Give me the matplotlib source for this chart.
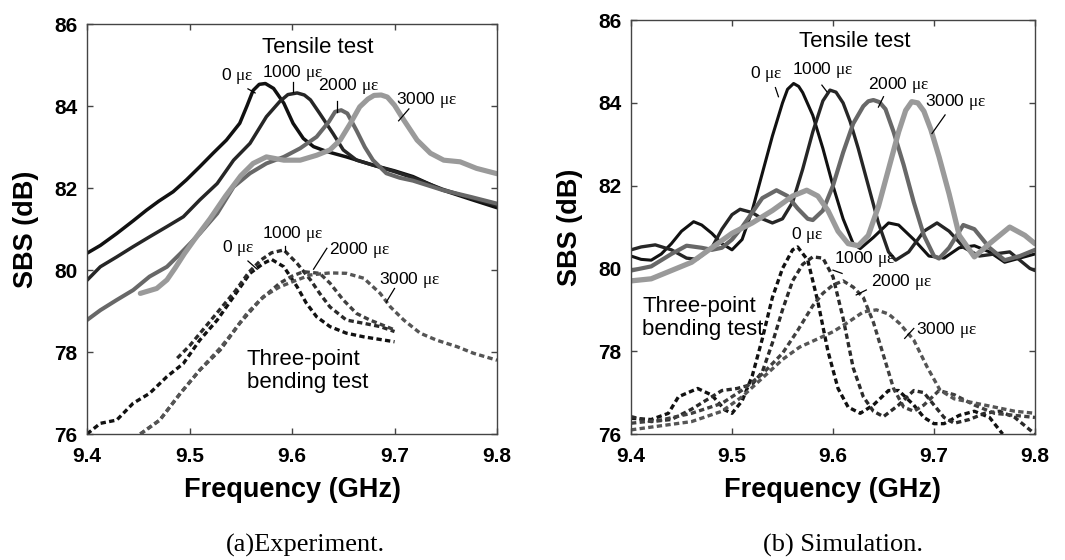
import matplotlib
matplotlib.use('Agg')
from matplotlib import pyplot as plt

plt.rcParams['font.family'] = ['Liberation Sans', 'DejaVu Sans']
plt.rcParams['mathtext.fontset'] = 'custom'
plt.rcParams['mathtext.rm'] = 'Liberation Serif'
plt.rcParams['mathtext.it'] = 'Liberation Serif:italic'

strains = ['0', '1000', '2000', '3000']

# ---------- (a) experiment: tensile test ----------
exp_t0_f = [9.400, 9.413, 9.429, 9.445, 9.458, 9.470, 9.484, 9.497, 9.510, 9.523, 9.536, 9.549, 9.556, 9.562,
            9.568, 9.574, 9.582, 9.592, 9.601, 9.611, 9.621, 9.634, 9.653, 9.679, 9.700, 9.718, 9.747, 9.775, 9.800]
exp_t0 = [80.41, 80.60, 80.89, 81.20, 81.46, 81.68, 81.91, 82.20, 82.52, 82.85, 83.17, 83.58, 84.00, 84.38,
          84.53, 84.55, 84.43, 84.07, 83.58, 83.21, 83.01, 82.89, 82.76, 82.56, 82.42, 82.28, 81.95, 81.72, 81.52]
exp_t1_f = [9.400, 9.413, 9.429, 9.445, 9.461, 9.478, 9.494, 9.510, 9.527, 9.543, 9.559, 9.575, 9.588, 9.596,
            9.605, 9.612, 9.618, 9.627, 9.640, 9.650, 9.663, 9.679, 9.700, 9.718, 9.747, 9.775, 9.800]
exp_t1 = [79.75, 80.08, 80.32, 80.57, 80.81, 81.06, 81.30, 81.71, 82.11, 82.68, 83.09, 83.74, 84.11, 84.28,
          84.32, 84.27, 84.15, 83.82, 83.33, 82.93, 82.68, 82.56, 82.40, 82.25, 81.97, 81.75, 81.58]
exp_t2_f = [9.400, 9.413, 9.429, 9.445, 9.461, 9.478, 9.491, 9.510, 9.527, 9.543, 9.559, 9.575, 9.592, 9.608,
            9.624, 9.636, 9.642, 9.648, 9.654, 9.663, 9.671, 9.679, 9.692, 9.705, 9.718, 9.747, 9.775, 9.800]
exp_t2 = [78.78, 79.02, 79.27, 79.51, 79.84, 80.08, 80.40, 80.89, 81.38, 82.03, 82.36, 82.60, 82.76, 82.97,
          83.25, 83.62, 83.86, 83.90, 83.82, 83.40, 83.00, 82.68, 82.36, 82.25, 82.18, 81.95, 81.78, 81.62]
exp_t3_f = [9.452, 9.468, 9.478, 9.486, 9.495, 9.505, 9.520, 9.535, 9.550, 9.562, 9.575, 9.592, 9.608, 9.624,
            9.637, 9.647, 9.657, 9.666, 9.674, 9.680, 9.687, 9.693, 9.700, 9.709, 9.722, 9.735, 9.748, 9.764,
            9.780, 9.800]
exp_t3 = [79.43, 79.55, 79.76, 80.05, 80.40, 80.75, 81.25, 81.80, 82.30, 82.60, 82.76, 82.68, 82.68, 82.80,
          82.93, 83.17, 83.58, 83.98, 84.17, 84.26, 84.27, 84.22, 84.02, 83.66, 83.17, 82.85, 82.68, 82.64,
          82.48, 82.35]

# ---------- (a) experiment: three-point bending ----------
exp_b0_f = [9.400, 9.405, 9.413, 9.429, 9.445, 9.461, 9.478, 9.494, 9.510, 9.527, 9.543, 9.559, 9.572, 9.580,
            9.592, 9.605, 9.614, 9.624, 9.637, 9.653, 9.670, 9.700]
exp_b0 = [76.00, 76.10, 76.26, 76.34, 76.75, 76.99, 77.40, 77.72, 78.29, 78.78, 79.35, 79.92, 80.16, 80.26,
          80.08, 79.59, 79.19, 78.86, 78.62, 78.46, 78.37, 78.25]
exp_b1_f = [9.488, 9.500, 9.515, 9.530, 9.545, 9.558, 9.570, 9.580, 9.592, 9.605, 9.618, 9.627, 9.637, 9.653,
            9.670, 9.686, 9.700]
exp_b1 = [77.85, 78.15, 78.60, 79.05, 79.50, 79.95, 80.25, 80.42, 80.49, 80.16, 79.76, 79.43, 79.10, 78.78,
          78.70, 78.62, 78.50]
exp_b2_f = [9.452, 9.471, 9.491, 9.510, 9.530, 9.549, 9.569, 9.588, 9.600, 9.611, 9.627, 9.637, 9.650, 9.663,
            9.676, 9.700]
exp_b2 = [76.00, 76.34, 76.99, 77.56, 78.05, 78.70, 79.27, 79.68, 79.85, 79.96, 79.92, 79.68, 79.27, 78.94,
          78.78, 78.54]
exp_b3_f = [9.452, 9.471, 9.491, 9.510, 9.530, 9.540, 9.556, 9.572, 9.588, 9.601, 9.618, 9.637, 9.653, 9.670,
            9.686, 9.696, 9.709, 9.725, 9.741, 9.761, 9.777, 9.800]
exp_b3 = [76.00, 76.34, 76.99, 77.56, 78.10, 78.41, 78.94, 79.35, 79.59, 79.72, 79.88, 79.93, 79.92, 79.80,
          79.43, 79.10, 78.78, 78.46, 78.29, 78.13, 77.97, 77.80]

# ---------- (b) simulation: tensile test ----------
sim_t0_f = [9.400, 9.410, 9.420, 9.430, 9.440, 9.450, 9.462, 9.470, 9.480, 9.490, 9.500, 9.510, 9.520, 9.530,
            9.540, 9.550, 9.555, 9.561, 9.566, 9.570, 9.580, 9.590, 9.600, 9.610, 9.620, 9.627, 9.640, 9.655,
            9.665, 9.680, 9.695, 9.710, 9.725, 9.740, 9.755, 9.770, 9.785, 9.800]
sim_t0 = [80.30, 80.22, 80.20, 80.35, 80.60, 80.90, 81.13, 81.05, 80.85, 80.60, 80.45, 80.70, 81.40, 82.30,
          83.20, 84.00, 84.33, 84.47, 84.40, 84.25, 83.70, 82.90, 82.00, 81.20, 80.60, 80.48, 80.75, 81.10,
          81.05, 80.70, 80.30, 80.25, 80.50, 80.55, 80.40, 80.15, 80.25, 80.35]
sim_t1_f = [9.400, 9.410, 9.424, 9.440, 9.455, 9.465, 9.480, 9.490, 9.500, 9.508, 9.520, 9.530, 9.540, 9.550,
            9.560, 9.570, 9.580, 9.590, 9.597, 9.603, 9.610, 9.617, 9.625, 9.635, 9.645, 9.655, 9.662, 9.675,
            9.690, 9.703, 9.715, 9.730, 9.745, 9.760, 9.775, 9.785, 9.795, 9.800]
sim_t1 = [80.45, 80.52, 80.57, 80.45, 80.25, 80.22, 80.50, 80.95, 81.30, 81.43, 81.35, 81.20, 81.10, 81.20,
          81.60, 82.40, 83.30, 84.05, 84.31, 84.26, 84.00, 83.55, 82.90, 82.00, 81.10, 80.40, 80.20, 80.40,
          80.90, 81.10, 80.90, 80.50, 80.30, 80.35, 80.40, 80.20, 80.00, 79.95]
sim_t2_f = [9.400, 9.420, 9.440, 9.455, 9.470, 9.480, 9.490, 9.500, 9.510, 9.520, 9.530, 9.544, 9.555, 9.565,
            9.575, 9.580, 9.590, 9.600, 9.610, 9.620, 9.630, 9.635, 9.640, 9.646, 9.652, 9.660, 9.670, 9.680,
            9.690, 9.700, 9.705, 9.715, 9.729, 9.740, 9.755, 9.770, 9.785, 9.800]
sim_t2 = [79.95, 80.05, 80.35, 80.55, 80.50, 80.45, 80.50, 80.70, 81.00, 81.35, 81.70, 81.89, 81.75, 81.45,
          81.20, 81.17, 81.40, 82.00, 82.80, 83.50, 83.92, 84.04, 84.07, 84.02, 83.85, 83.30, 82.50, 81.60,
          80.80, 80.30, 80.24, 80.50, 81.05, 80.95, 80.50, 80.20, 80.30, 80.45]
sim_t3_f = [9.400, 9.420, 9.440, 9.460, 9.480, 9.500, 9.520, 9.540, 9.560, 9.574, 9.585, 9.595, 9.605, 9.615,
            9.625, 9.635, 9.645, 9.655, 9.665, 9.672, 9.678, 9.684, 9.690, 9.697, 9.705, 9.715, 9.725, 9.740,
            9.755, 9.775, 9.790, 9.800]
sim_t3 = [79.70, 79.75, 79.95, 80.15, 80.50, 80.85, 81.10, 81.40, 81.75, 81.89, 81.75, 81.40, 80.90, 80.60,
          80.55, 80.80, 81.50, 82.40, 83.30, 83.82, 84.03, 84.00, 83.80, 83.35, 82.70, 81.80, 80.80, 80.28,
          80.60, 81.00, 80.80, 80.60]

# ---------- (b) simulation: three-point bending ----------
sim_b0_f = [9.400, 9.420, 9.437, 9.447, 9.466, 9.480, 9.493, 9.500, 9.510, 9.520, 9.530, 9.540, 9.550, 9.560,
            9.565, 9.575, 9.585, 9.595, 9.605, 9.615, 9.627, 9.640, 9.655, 9.665, 9.680, 9.690, 9.700, 9.710,
            9.725, 9.740, 9.755, 9.768]
sim_b0 = [76.38, 76.35, 76.50, 76.90, 77.10, 76.94, 76.58, 76.50, 76.80, 77.40, 78.30, 79.30, 80.00, 80.45,
          80.52, 80.20, 79.20, 78.00, 77.10, 76.65, 76.50, 76.70, 77.05, 77.05, 76.70, 76.40, 76.25, 76.25,
          76.45, 76.55, 76.40, 76.00]
sim_b1_f = [9.400, 9.420, 9.440, 9.460, 9.480, 9.490, 9.505, 9.520, 9.530, 9.540, 9.550, 9.560, 9.570, 9.580,
            9.590, 9.600, 9.610, 9.620, 9.630, 9.640, 9.650, 9.665, 9.680, 9.690, 9.700, 9.710, 9.720, 9.735,
            9.750, 9.765, 9.780, 9.795, 9.800]
sim_b1 = [76.42, 76.30, 76.35, 76.60, 76.90, 77.05, 77.10, 77.20, 77.50, 78.20, 79.00, 79.70, 80.10, 80.28,
          80.25, 79.80, 78.80, 77.60, 76.90, 76.55, 76.42, 76.70, 77.05, 77.00, 76.70, 76.40, 76.26, 76.35,
          76.50, 76.55, 76.40, 76.10, 76.00]
sim_b2_f = [9.400, 9.430, 9.460, 9.490, 9.510, 9.530, 9.550, 9.565, 9.580, 9.590, 9.600, 9.610, 9.620, 9.630,
            9.640, 9.650, 9.660, 9.670, 9.680, 9.690, 9.705, 9.720, 9.740, 9.760, 9.780, 9.800]
sim_b2 = [76.26, 76.34, 76.50, 76.74, 77.06, 77.45, 77.95, 78.50, 79.10, 79.40, 79.60, 79.70, 79.55, 79.30,
          78.70, 77.90, 77.10, 76.65, 76.55, 76.70, 77.05, 76.95, 76.70, 76.50, 76.45, 76.40]
sim_b3_f = [9.400, 9.430, 9.460, 9.490, 9.510, 9.530, 9.550, 9.567, 9.585, 9.600, 9.615, 9.630, 9.643, 9.655,
            9.666, 9.680, 9.693, 9.706, 9.720, 9.740, 9.760, 9.780, 9.800]
sim_b3 = [76.10, 76.20, 76.30, 76.55, 76.90, 77.35, 77.80, 78.10, 78.30, 78.47, 78.70, 78.95, 79.00, 78.90,
          78.67, 78.27, 77.63, 77.06, 76.85, 76.75, 76.65, 76.55, 76.50]

solid_cols = ['#111111', '#262626', '#686868', '#9a9a9a']
dash_cols = ['#111111', '#2a2a2a', '#404040', '#555555']
dash = (0, (1.6, 1.0))


def style(ax):
    ax.set_xlim(9.4, 9.8)
    ax.set_ylim(76, 86)
    ax.set_xticks([9.4, 9.5, 9.6, 9.7, 9.8])
    ax.set_yticks([76, 78, 80, 82, 84, 86])
    ax.set_xticklabels(['9.4', '9.5', '9.6', '9.7', '9.8'])
    ax.set_yticklabels(['76', '78', '80', '82', '84', '86'])
    for s in ax.spines.values():
        s.set_color('#444444')
        s.set_linewidth(1.0)
    ax.tick_params(direction='in', top=True, right=True, length=4, width=1, color='#444444',
                   labelsize=15, pad=7)
    ax.tick_params(axis='x', pad=9)
    for t in ax.get_xticklabels() + ax.get_yticklabels():
        t.set_fontweight('bold')
    ax.set_xlabel('Frequency (GHz)', fontsize=19.5, fontweight='bold', labelpad=8)
    ax.set_ylabel('SBS (dB)', fontsize=19.5, fontweight='bold', labelpad=11)


def strain_label(ax, txt, pos, p1, p2):
    ax.text(pos[0], pos[1], txt + r' $\mathrm{\mu\varepsilon}$', fontsize=12.5, ha='center', va='center')
    ax.plot([p1[0], p2[0]], [p1[1], p2[1]], color='black', lw=0.9)


fig = plt.figure(figsize=(10.65, 5.6), dpi=100)
ax1 = fig.add_axes([0.0817, 0.225, 0.385, 0.732])
ax2 = fig.add_axes([0.5925, 0.225, 0.3793, 0.739])

# (a)
for f, v, c, w in zip([exp_t0_f, exp_t1_f, exp_t2_f, exp_t3_f], [exp_t0, exp_t1, exp_t2, exp_t3],
                      solid_cols, [2.5, 2.5, 2.9, 3.7]):
    ax1.plot(f, v, color=c, lw=w, solid_joinstyle='round', solid_capstyle='round')
for f, v, c in zip([exp_b0_f, exp_b1_f, exp_b2_f, exp_b3_f], [exp_b0, exp_b1, exp_b2, exp_b3], dash_cols):
    ax1.plot(f, v, color=c, lw=2.4, linestyle=dash)
style(ax1)
ax1.text(9.6254, 85.44, 'Tensile test', fontsize=16, ha='center', va='center')
strain_label(ax1, '0', (9.547, 84.73), (9.557, 84.42), (9.564, 84.32))
strain_label(ax1, '1000', (9.601, 84.80), (9.601, 84.59), (9.601, 84.35))
strain_label(ax1, '2000', (9.655, 84.49), (9.644, 84.12), (9.644, 83.85))
strain_label(ax1, '3000', (9.731, 84.15), (9.714, 83.93), (9.704, 83.64))
strain_label(ax1, '1000', (9.601, 80.89), (9.593, 80.59), (9.593, 80.47))
strain_label(ax1, '0', (9.548, 80.53), (9.557, 80.22), (9.566, 80.02))
strain_label(ax1, '2000', (9.666, 80.49), (9.634, 80.53), (9.621, 80.02))
strain_label(ax1, '3000', (9.715, 79.76), (9.700, 79.55), (9.692, 79.22))
ax1.text(9.556, 77.54, 'Three-point\nbending test', fontsize=16, ha='left', va='center', linespacing=1.15)

# (b)
for f, v, c, w in zip([sim_t0_f, sim_t1_f, sim_t2_f, sim_t3_f], [sim_t0, sim_t1, sim_t2, sim_t3],
                      solid_cols, [2.2, 2.4, 3.0, 3.8]):
    ax2.plot(f, v, color=c, lw=w, solid_joinstyle='round', solid_capstyle='round')
for f, v, c in zip([sim_b0_f, sim_b1_f, sim_b2_f, sim_b3_f], [sim_b0, sim_b1, sim_b2, sim_b3], dash_cols):
    ax2.plot(f, v, color=c, lw=2.4, linestyle=dash)
style(ax2)
ax2.text(9.622, 85.48, 'Tensile test', fontsize=16, ha='center', va='center')
strain_label(ax2, '0', (9.534, 84.70), (9.543, 84.37), (9.546, 84.15))
strain_label(ax2, '1000', (9.590, 84.79), (9.589, 84.43), (9.594, 84.27))
strain_label(ax2, '2000', (9.665, 84.43), (9.650, 84.15), (9.645, 83.90))
strain_label(ax2, '3000', (9.722, 84.03), (9.711, 83.71), (9.698, 83.26))
ax2.text(9.575, 80.81, r'0 $\mathrm{\mu\varepsilon}$', fontsize=12.5, ha='center', va='center')
strain_label(ax2, '1000', (9.631, 80.23), (9.600, 79.96), (9.609, 79.88))
strain_label(ax2, '2000', (9.668, 79.68), (9.633, 79.48), (9.623, 79.36))
strain_label(ax2, '3000', (9.713, 78.51), (9.680, 78.55), (9.671, 78.31))
ax2.text(9.411, 78.81, 'Three-point\nbending test', fontsize=16, ha='left', va='center', linespacing=1.15)

fig.text(305 / 1065, 1 - 545 / 560, '(a)Experiment.', fontsize=19, family='Liberation Serif',
         ha='center', va='center')
fig.text(843 / 1065, 1 - 545 / 560, '(b) Simulation.', fontsize=19, family='Liberation Serif',
         ha='center', va='center')

fig.savefig('out.png', dpi=100)
